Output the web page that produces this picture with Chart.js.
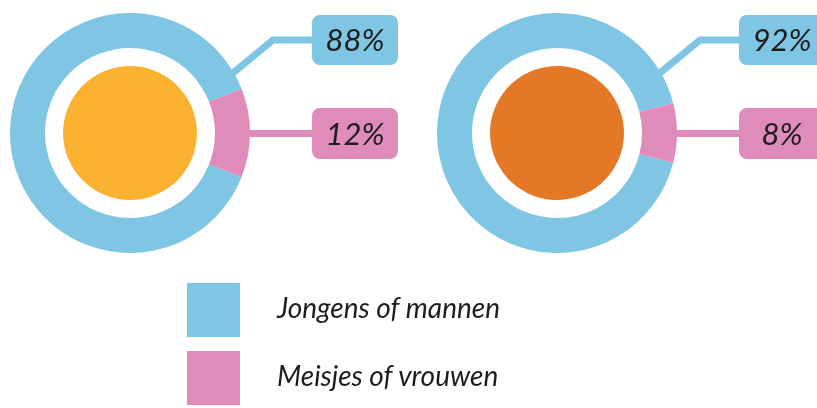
<!DOCTYPE html>
<html>
<head>
<meta charset="utf-8">
<script src="https://cdn.jsdelivr.net/npm/chart.js@4/dist/chart.umd.min.js"></script>
<style>
  html, body { margin: 0; padding: 0; background: #ffffff; }
  #wrap { position: relative; width: 817px; height: 408px; overflow: hidden; }
  canvas.c { position: absolute; left: 0; top: 0; }
  .lg-sw { position: absolute; width: 53px; height: 54px; }
  .lg-tx { position: absolute; font-family: Lato, "Open Sans", sans-serif; font-style: italic; font-size: 28px; color: #1d1d1b; line-height: 54px; white-space: nowrap; }
</style>
</head>
<body>
<div id="wrap">
  <canvas id="c1" class="c" width="817" height="408"></canvas>
  <canvas id="c2" class="c" width="817" height="408"></canvas>
</div>
<script>
// ---- data ----
const categories = ["Jongens of mannen", "Meisjes of vrouwen"];
const groupA = [88, 12];   // left donut (percentages)
const groupB = [92, 8];    // right donut (percentages)
const seriesColors = ["#7fc6e4", "#df8cbb"];
const centerColors = ["#fbb231", "#e37826"];

const TEXT_COLOR = "#1d1d1b";
const FONT = 'italic 400 31px Lato, "Open Sans", sans-serif';

// callout plugin: draws leader lines + rounded boxes with percentages, anchored to arc geometry
const calloutPlugin = {
  id: "callouts",
  afterDatasetsDraw(chart) {
    const meta = chart.getDatasetMeta(0);
    const values = chart.data.datasets[0].data;
    const ctx = chart.ctx;
    const arcBlue = meta.data[0];
    const arcPink = meta.data[1];
    const cx = arcBlue.x, cy = arcBlue.y;
    const R = arcBlue.outerRadius;
    const boxL = cx + 182, boxW = 86, rad = 8;
    const blueTop = cy - 118, blueH = 50;
    const pinkTop = cy - 25, pinkH = 51;
    ctx.save();
    ctx.lineWidth = 7;
    ctx.lineCap = "butt";
    ctx.lineJoin = "miter";
    // blue leader
    const a = -30 * Math.PI / 180;
    const sx = cx + (R - 4) * Math.cos(a), sy = cy + (R - 4) * Math.sin(a);
    const byc = blueTop + blueH / 2;
    ctx.strokeStyle = arcBlue.options.backgroundColor;
    ctx.beginPath();
    ctx.moveTo(sx, sy);
    ctx.lineTo(cx + 143, byc);
    ctx.lineTo(boxL + 2, byc);
    ctx.stroke();
    // pink leader, from arc mid-angle
    const mid = (arcPink.startAngle + arcPink.endAngle) / 2;
    const px = cx + (R - 2) * Math.cos(mid);
    const pyc = pinkTop + pinkH / 2;
    ctx.strokeStyle = arcPink.options.backgroundColor;
    ctx.beginPath();
    ctx.moveTo(px, pyc);
    ctx.lineTo(boxL + 2, pyc);
    ctx.stroke();
    // boxes
    const drawBox = (top, h, color, label) => {
      ctx.fillStyle = color;
      ctx.beginPath();
      ctx.roundRect(boxL, top, boxW, h, rad);
      ctx.fill();
      ctx.fillStyle = TEXT_COLOR;
      ctx.font = FONT;
      ctx.textAlign = "center";
      ctx.textBaseline = "middle";
      ctx.fillText(label, boxL + boxW / 2, top + h / 2 + 1);
    };
    drawBox(blueTop, blueH, arcBlue.options.backgroundColor, values[0] + "%");
    drawBox(pinkTop, pinkH, arcPink.options.backgroundColor, values[1] + "%");
    ctx.restore();
  }
};

function makeDonut(canvasId, values, centerColor, padding) {
  const total = values.reduce((s, v) => s + v, 0);
  // rotate so the second category is centred on the right (3 o'clock)
  const rotation = 90 + (values[1] / total) * 180;
  return new Chart(document.getElementById(canvasId), {
    type: "doughnut",
    data: {
      labels: categories,
      datasets: [
        { data: values, backgroundColor: seriesColors, borderWidth: 0, weight: 35 },
        { data: [1], backgroundColor: ["rgba(255,255,255,0)"], borderWidth: 0, weight: 18 },
        { data: [1], backgroundColor: [centerColor], borderWidth: 0, weight: 67 }
      ]
    },
    options: {
      responsive: false,
      animation: false,
      events: [],
      cutout: 0,
      rotation: rotation,
      layout: { padding: padding },
      plugins: { legend: { display: false }, tooltip: { enabled: false } }
    },
    plugins: [calloutPlugin]
  });
}

makeDonut("c1", groupA, centerColors[0], { left: 10, right: 567, top: 13, bottom: 155 });
makeDonut("c2", groupB, centerColors[1], { left: 437, right: 140, top: 13, bottom: 155 });

// legend (HTML, real text)
const wrap = document.getElementById("wrap");
categories.forEach((cat, i) => {
  const sw = document.createElement("div");
  sw.className = "lg-sw";
  sw.style.left = "187px";
  sw.style.top = (283 + i * 68) + "px";
  sw.style.background = seriesColors[i];
  wrap.appendChild(sw);
  const tx = document.createElement("div");
  tx.className = "lg-tx";
  tx.style.left = "277px";
  tx.style.top = (280 + i * 68) + "px";
  tx.textContent = cat;
  wrap.appendChild(tx);
});
</script>
</body>
</html>
